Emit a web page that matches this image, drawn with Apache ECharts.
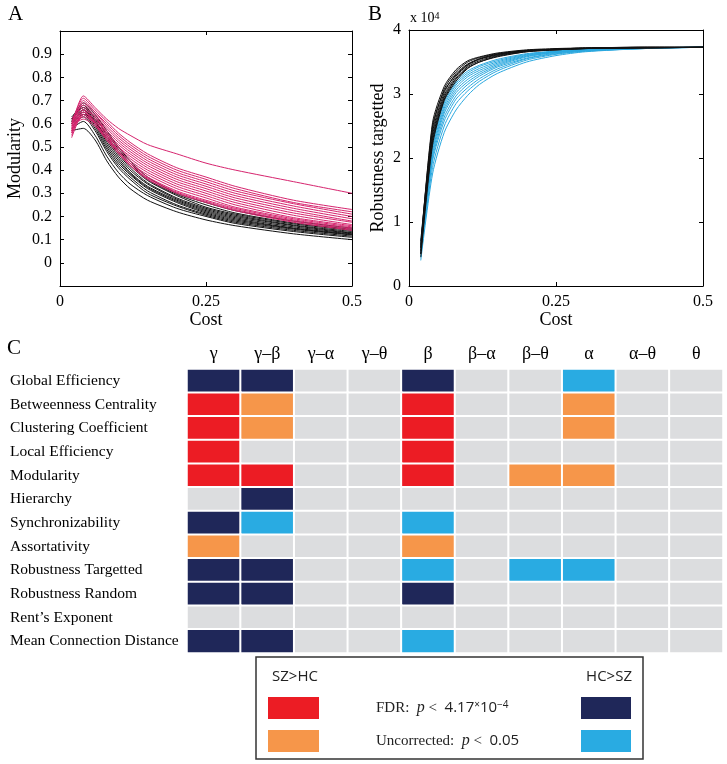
<!DOCTYPE html>
<html>
<head>
<meta charset="utf-8">
<script src="https://cdn.jsdelivr.net/npm/echarts@6/dist/echarts.min.js"></script>
<style>html,body{margin:0;padding:0;background:#fff;}#c{width:727px;height:764px;}</style>
</head>
<body>
<div id="c"></div>
<script>
// ---------- DATA ----------
const costGrid = [0.02,0.04,0.06,0.08,0.10,0.12,0.15,0.20,0.25,0.30,0.40,0.50];
const costTicks = [0, 0.25, 0.5];

// Panel A: modularity curves (pink = SZ, black = HC)
const modularitySZ = [
  [0.59,0.72,0.67,0.62,0.58,0.55,0.51,0.47,0.43,0.40,0.35,0.30],
  [0.60,0.71,0.66,0.61,0.56,0.52,0.47,0.41,0.37,0.33,0.27,0.23],
  [0.58,0.70,0.65,0.60,0.55,0.51,0.46,0.40,0.36,0.32,0.26,0.22],
  [0.56,0.69,0.65,0.59,0.54,0.50,0.45,0.39,0.35,0.31,0.255,0.21],
  [0.62,0.68,0.64,0.58,0.53,0.49,0.44,0.38,0.34,0.30,0.245,0.20],
  [0.57,0.66,0.63,0.57,0.52,0.48,0.43,0.37,0.33,0.29,0.235,0.19],
  [0.55,0.65,0.62,0.56,0.51,0.47,0.42,0.36,0.32,0.28,0.225,0.18],
  [0.61,0.67,0.63,0.56,0.50,0.46,0.41,0.35,0.31,0.27,0.215,0.175],
  [0.54,0.64,0.61,0.55,0.50,0.45,0.40,0.34,0.30,0.26,0.205,0.165],
  [0.58,0.63,0.60,0.54,0.49,0.44,0.39,0.33,0.29,0.25,0.195,0.16],
  [0.59,0.62,0.59,0.53,0.48,0.43,0.38,0.32,0.28,0.24,0.19,0.155],
  [0.57,0.65,0.61,0.55,0.48,0.43,0.37,0.31,0.27,0.235,0.185,0.15],
  [0.60,0.66,0.60,0.53,0.47,0.42,0.365,0.305,0.265,0.23,0.18,0.145],
  [0.56,0.64,0.60,0.54,0.48,0.42,0.36,0.30,0.26,0.225,0.175,0.14]
];
const modularityHC = [
  [0.57,0.58,0.53,0.44,0.37,0.32,0.27,0.22,0.185,0.16,0.125,0.10],
  [0.58,0.61,0.55,0.46,0.39,0.34,0.29,0.235,0.20,0.17,0.135,0.11],
  [0.59,0.63,0.57,0.48,0.41,0.36,0.30,0.245,0.205,0.175,0.14,0.115],
  [0.60,0.64,0.58,0.49,0.42,0.37,0.31,0.25,0.21,0.18,0.145,0.12],
  [0.61,0.65,0.59,0.50,0.43,0.38,0.32,0.26,0.215,0.185,0.148,0.122],
  [0.60,0.66,0.60,0.51,0.44,0.385,0.325,0.265,0.22,0.19,0.15,0.125],
  [0.62,0.67,0.61,0.52,0.45,0.39,0.33,0.27,0.225,0.195,0.155,0.128],
  [0.61,0.68,0.62,0.53,0.46,0.40,0.34,0.275,0.23,0.20,0.16,0.13],
  [0.62,0.66,0.61,0.54,0.47,0.41,0.345,0.28,0.235,0.205,0.163,0.135],
  [0.63,0.67,0.63,0.55,0.48,0.42,0.355,0.29,0.24,0.21,0.168,0.14],
  [0.60,0.64,0.62,0.56,0.49,0.43,0.36,0.295,0.25,0.215,0.172,0.145],
  [0.62,0.69,0.64,0.57,0.50,0.44,0.37,0.30,0.26,0.225,0.18,0.15]
];
const modularityTicks = [0,0.1,0.2,0.3,0.4,0.5,0.6,0.7,0.8,0.9];

// Panel B: robustness targetted (x 10^4) (black = HC, blue = SZ)
const robustnessHC = [
  [0.60,2.55,3.12,3.38,3.52,3.58,3.64,3.69,3.71,3.72,3.73,3.73],
  [0.50,2.45,3.08,3.35,3.50,3.57,3.63,3.68,3.70,3.72,3.73,3.73],
  [0.70,2.40,3.02,3.32,3.47,3.55,3.62,3.68,3.70,3.71,3.73,3.73],
  [0.55,2.35,2.98,3.28,3.45,3.54,3.61,3.67,3.70,3.71,3.72,3.73],
  [0.65,2.30,2.95,3.25,3.43,3.52,3.60,3.67,3.69,3.71,3.72,3.73],
  [0.50,2.25,2.92,3.23,3.41,3.50,3.59,3.66,3.69,3.71,3.72,3.73],
  [0.60,2.50,3.05,3.30,3.46,3.55,3.62,3.68,3.70,3.72,3.73,3.73],
  [0.45,2.20,2.90,3.20,3.40,3.50,3.58,3.66,3.69,3.71,3.72,3.73]
];
const robustnessSZ = [
  [0.40,1.75,2.40,2.75,2.98,3.15,3.32,3.50,3.60,3.66,3.71,3.73],
  [0.45,1.85,2.50,2.85,3.05,3.20,3.36,3.53,3.62,3.67,3.71,3.73],
  [0.50,1.95,2.58,2.92,3.10,3.24,3.39,3.55,3.63,3.67,3.71,3.73],
  [0.55,2.00,2.64,2.97,3.15,3.28,3.42,3.56,3.64,3.68,3.72,3.73],
  [0.60,2.05,2.70,3.02,3.19,3.31,3.44,3.58,3.65,3.68,3.72,3.73],
  [0.50,2.10,2.74,3.06,3.23,3.34,3.46,3.59,3.65,3.69,3.72,3.73],
  [0.65,2.15,2.78,3.10,3.27,3.37,3.48,3.60,3.66,3.69,3.72,3.73],
  [0.55,2.20,2.82,3.14,3.30,3.40,3.50,3.61,3.66,3.69,3.72,3.73],
  [0.60,2.25,2.86,3.17,3.33,3.43,3.52,3.62,3.67,3.70,3.72,3.73],
  [0.70,2.30,2.90,3.20,3.36,3.45,3.54,3.63,3.67,3.70,3.72,3.73]
];
const robustnessTicks = [0,1,2,3,4];

// Panel C: significance matrix
const bandLabels = ['γ','γ–β','γ–α','γ–θ','β','β–α','β–θ','α','α–θ','θ'];
const measureLabels = ['Global Efficiency','Betweenness Centrality','Clustering Coefficient','Local Efficiency',
  'Modularity','Hierarchy','Synchronizability','Assortativity','Robustness Targetted','Robustness Random',
  "Rent’s Exponent",'Mean Connection Distance'];
// 0 none, 1 SZ>HC FDR, 2 SZ>HC uncorrected, 3 HC>SZ FDR, 4 HC>SZ uncorrected
const significance = [
  [3,3,0,0,3,0,0,4,0,0],
  [1,2,0,0,1,0,0,2,0,0],
  [1,2,0,0,1,0,0,2,0,0],
  [1,0,0,0,1,0,0,0,0,0],
  [1,1,0,0,1,0,2,2,0,0],
  [0,3,0,0,0,0,0,0,0,0],
  [3,4,0,0,4,0,0,0,0,0],
  [2,0,0,0,2,0,0,0,0,0],
  [3,3,0,0,4,0,4,4,0,0],
  [3,3,0,0,3,0,0,0,0,0],
  [0,0,0,0,0,0,0,0,0,0],
  [3,3,0,0,4,0,0,0,0,0]
];

// ---------- CHART ----------
const SERIF = '"Liberation Serif", "DejaVu Serif", serif';
const SANS = '"Open Sans", "Noto Sans", sans-serif';
const C_PINK = '#d6246e', C_BLACK = '#111111', C_BLUE = '#2aa8df';
const heatColors = ['#dcdddf','#ec1c24','#f6964a','#1f2759','#29abe2'];

function lineSeries(arr, color, xi, yi) {
  return arr.map(ys => ({
    type: 'line', xAxisIndex: xi, yAxisIndex: yi, symbol: 'none', smooth: 0.25,
    silent: true, lineStyle: {color: color, width: 1}, z: 3,
    data: ys.map((y, i) => [costGrid[i], y])
  }));
}

const boxAxis = {axisLine: {show: true, onZero: false, lineStyle: {color: '#000', width: 1}},
  axisTick: {show: true, inside: true, length: 4, lineStyle: {color: '#000'}},
  splitLine: {show: false}};

function xAx(gi, pos, show) {
  return Object.assign({}, JSON.parse(JSON.stringify(boxAxis)), {
    type: 'value', gridIndex: gi, position: pos, min: 0, max: 0.5, interval: 0.25,
    axisLabel: {show: show, color: '#000', fontFamily: SERIF, fontSize: 16, margin: 8,
      formatter: v => costTicks.includes(+v.toFixed(2)) ? String(+v.toFixed(2)) : ''},
    name: show ? 'Cost' : '', nameLocation: 'middle', nameGap: 22,
    nameTextStyle: {color: '#000', fontFamily: SERIF, fontSize: 18}
  });
}

const heatData = [];
significance.forEach((row, r) => row.forEach((v, c) => heatData.push([c, r, v])));

const option = {
  animation: false,
  backgroundColor: '#fff',
  grid: [
    {left: 60, top: 31, width: 292, height: 255},
    {left: 409, top: 30, width: 294, height: 256},
    {left: 187, top: 369, width: 536, height: 284}
  ],
  xAxis: [
    xAx(0, 'bottom', true), xAx(0, 'top', false),
    xAx(1, 'bottom', true), xAx(1, 'top', false),
    {type: 'category', gridIndex: 2, position: 'top', data: bandLabels,
      axisLine: {show: false}, axisTick: {show: false}, splitLine: {show: false},
      axisLabel: {color: '#000', fontFamily: SERIF, fontSize: 18, margin: 6, interval: 0}}
  ],
  yAxis: [
    Object.assign({}, JSON.parse(JSON.stringify(boxAxis)), {type: 'value', gridIndex: 0, position: 'left',
      min: -0.1, max: 1.0, interval: 0.1,
      axisLabel: {color: '#000', fontFamily: SERIF, fontSize: 16, margin: 8,
        formatter: v => { const r = +v.toFixed(1); return modularityTicks.includes(r) ? String(r) : ''; }},
      name: 'Modularity', nameLocation: 'middle', nameGap: 36, nameRotate: 90,
      nameTextStyle: {color: '#000', fontFamily: SERIF, fontSize: 18}}),
    Object.assign({}, JSON.parse(JSON.stringify(boxAxis)), {type: 'value', gridIndex: 0, position: 'right',
      min: -0.1, max: 1.0, interval: 0.1, axisLabel: {show: false}}),
    Object.assign({}, JSON.parse(JSON.stringify(boxAxis)), {type: 'value', gridIndex: 1, position: 'left',
      min: 0, max: 4, interval: 1,
      axisLabel: {color: '#000', fontFamily: SERIF, fontSize: 16, margin: 8,
        formatter: v => robustnessTicks.includes(v) ? String(v) : ''},
      name: 'Robustness targetted', nameLocation: 'middle', nameGap: 22, nameRotate: 90,
      nameTextStyle: {color: '#000', fontFamily: SERIF, fontSize: 18}}),
    Object.assign({}, JSON.parse(JSON.stringify(boxAxis)), {type: 'value', gridIndex: 1, position: 'right',
      min: 0, max: 4, interval: 1, axisLabel: {show: false}}),
    {type: 'category', gridIndex: 2, inverse: true, data: measureLabels,
      axisLine: {show: false}, axisTick: {show: false}, splitLine: {show: false},
      axisLabel: {color: '#000', fontFamily: SERIF, fontSize: 15.5, align: 'left', margin: 177, interval: 0}}
  ],
  visualMap: {show: false, type: 'piecewise', seriesIndex: 0, dimension: 2,
    pieces: heatColors.map((c, i) => ({value: i, color: c}))},
  series: [
    {type: 'heatmap', xAxisIndex: 4, yAxisIndex: 4, data: heatData, silent: true,
      itemStyle: {borderColor: '#fff', borderWidth: 2}, emphasis: {disabled: true}}
  ].concat(
    lineSeries(modularityHC, C_BLACK, 0, 0),
    lineSeries(modularitySZ, C_PINK, 0, 0),
    lineSeries(robustnessSZ, C_BLUE, 2, 2),
    lineSeries(robustnessHC, C_BLACK, 2, 2)
  ),
  graphic: [
    {type: 'text', left: 8, top: 4, style: {text: 'A', font: '21px ' + SERIF, fill: '#000'}},
    {type: 'text', left: 368, top: 4, style: {text: 'B', font: '21px ' + SERIF, fill: '#000'}},
    {type: 'text', left: 7, top: 338, style: {text: 'C', font: '21px ' + SERIF, fill: '#000'}},
    {type: 'text', left: 410, top: 11, style: {
      text: '{a|x 10}{b|4}', rich: {a: {fontFamily: SERIF, fontSize: 14, fill: '#000', verticalAlign: 'bottom'},
        b: {fontFamily: SERIF, fontSize: 10, fill: '#000', verticalAlign: 'top'}}}},
    {type: 'rect', shape: {x: 256, y: 657, width: 387, height: 102},
      style: {fill: 'none', stroke: '#333', lineWidth: 1.5}},
    {type: 'text', x: 272, y: 669, style: {text: 'SZ>HC', font: '15px ' + SANS, fill: '#222'}},
    {type: 'text', x: 632, y: 669, style: {text: 'HC>SZ', font: '15px ' + SANS, fill: '#222', textAlign: 'right'}},
    {type: 'rect', shape: {x: 268, y: 697, width: 51, height: 22}, style: {fill: heatColors[1]}},
    {type: 'rect', shape: {x: 268, y: 730, width: 51, height: 22}, style: {fill: heatColors[2]}},
    {type: 'rect', shape: {x: 581, y: 697, width: 50, height: 22}, style: {fill: heatColors[3]}},
    {type: 'rect', shape: {x: 581, y: 730, width: 50, height: 22}, style: {fill: heatColors[4]}},
    {type: 'text', x: 376, y: 700, style: {
      text: '{a|FDR:  }{i|p}{a| <  }{s|4.17}{x|×}{s|10}{u|−4}',
      rich: {a: {fontFamily: SERIF, fontSize: 15, fill: '#222'},
        i: {fontFamily: SERIF, fontStyle: 'italic', fontSize: 16, fill: '#222'},
        s: {fontFamily: SANS, fontSize: 15, fill: '#222'},
        x: {fontFamily: SANS, fontSize: 10, fill: '#222', verticalAlign: 'top'},
        u: {fontFamily: SANS, fontSize: 10, fill: '#222', verticalAlign: 'top'}}}},
    {type: 'text', x: 376, y: 733, style: {
      text: '{a|Uncorrected:  }{i|p}{a| <  }{s|0.05}',
      rich: {a: {fontFamily: SERIF, fontSize: 15, fill: '#222'},
        i: {fontFamily: SERIF, fontStyle: 'italic', fontSize: 16, fill: '#222'},
        s: {fontFamily: SANS, fontSize: 15, fill: '#222'}}}}
  ]
};

const chart = echarts.init(document.getElementById('c'), null, {renderer: 'canvas'});
chart.setOption(option);
</script>
</body>
</html>
